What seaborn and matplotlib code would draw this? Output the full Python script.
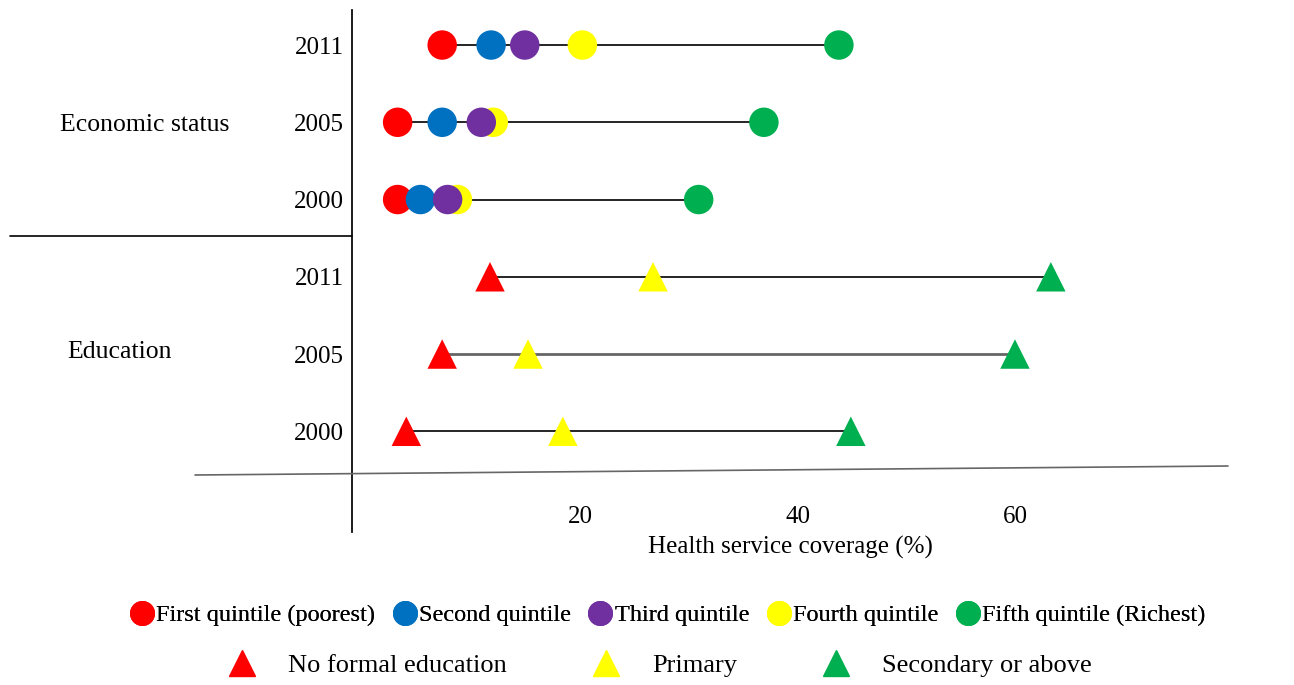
import matplotlib
matplotlib.use("Agg")
import matplotlib.pyplot as plt
import seaborn as sns
import pandas as pd
from matplotlib.lines import Line2D

sns.set_theme(style="white")
plt.rcParams['font.family'] = ['Liberation Serif', 'DejaVu Serif']
plt.rcParams['text.color'] = 'black'
plt.rcParams['xtick.color'] = 'black'
plt.rcParams['ytick.color'] = 'black'
plt.rcParams['axes.labelcolor'] = 'black'

years = ["2011", "2005", "2000", "2011", "2005", "2000"]
econ_names = ["First quintile (poorest)", "Second quintile", "Third quintile", "Fourth quintile", "Fifth quintile (Richest)"]
econ_colors = ["#ff0000", "#0070c0", "#7030a0", "#ffff00", "#00b050"]
econ_vals = {  # rows 2011, 2005, 2000
    "First quintile (poorest)": [7.3, 3.2, 3.2],
    "Second quintile": [11.8, 7.3, 5.3],
    "Third quintile": [14.9, 10.9, 7.8],
    "Fourth quintile": [20.2, 12.0, 8.7],
    "Fifth quintile (Richest)": [43.8, 36.9, 30.9],
}
econ_order = ["First quintile (poorest)", "Second quintile", "Fourth quintile", "Third quintile", "Fifth quintile (Richest)"]
edu_names = ["No formal education", "Primary", "Secondary or above"]
edu_colors = ["#ff0000", "#ffff00", "#00b050"]
edu_vals = {
    "No formal education": [11.7, 7.3, 4.0],
    "Primary": [26.7, 15.2, 18.4],
    "Secondary or above": [63.3, 60.0, 44.9],
}

fig = plt.figure(figsize=(12.94, 6.85), dpi=100)
ax = fig.add_axes([0.272, 0.314, 0.677, 0.671])

rows = []
for n in econ_names:
    for i, v in enumerate(econ_vals[n]):
        rows.append(dict(x=v, y=i, g=n))
edf = pd.DataFrame(rows)
rows = []
for n in edu_names:
    for i, v in enumerate(edu_vals[n]):
        rows.append(dict(x=v, y=i + 3, g=n))
udf = pd.DataFrame(rows)

for i in range(3):
    vs = [econ_vals[n][i] for n in econ_names]
    ax.hlines(i, min(vs), max(vs), color="black", lw=1.2, zorder=1)
    vs = [edu_vals[n][i] for n in edu_names]
    ax.hlines(i + 3, min(vs), max(vs), color="black" if i != 1 else "#666666", lw=1.2 if i != 1 else 2, zorder=1)

for n in econ_order:
    c = econ_colors[econ_names.index(n)]
    sub = edf[edf.g == n]
    sns.scatterplot(data=sub, x="x", y="y", color=c, s=450, marker="o", edgecolor="none", ax=ax, zorder=3, legend=False)
for n, c in zip(edu_names, edu_colors):
    sub = udf[udf.g == n]
    sns.scatterplot(data=sub, x="x", y="y", color=c, s=450, marker="^", edgecolor="none", ax=ax, zorder=3, legend=False)

ax.set_xlim(-1, 79.6)
ax.set_ylim(5.5, -0.45)
ax.set_xticks([20, 40, 60])
ax.set_yticks(range(6))
ax.set_yticklabels(years)
ax.tick_params(axis="y", labelsize=18, length=0, pad=6)
ax.tick_params(axis="x", labelsize=18, length=0, pad=26)
ax.set_xlabel("Health service coverage (%)", fontsize=18, labelpad=6)
ax.set_ylabel("")
for s in ["top", "right", "bottom"]:
    ax.spines[s].set_visible(False)
ax.spines["left"].set_color("black")
ax.spines["left"].set_bounds(-0.45, 6.3)
ax.spines["left"].set_clip_on(False)

fig.add_artist(Line2D([195/1294, 1228/1294], [1-475/685, 1-466/685], color="#666666", lw=1.2))
fig.add_artist(Line2D([10/1294, 352/1294], [1-236/685, 1-236/685], color="black", lw=1.2))
fig.text(60/1294, 1-125/685, "Economic status", fontsize=18.5, va="center", ha="left")
fig.text(67/1294, 1-352/685, "Education", fontsize=18.5, va="center", ha="left")

h1 = [Line2D([], [], marker="o", ls="", color=c, markersize=17) for c in econ_colors]
leg1 = fig.legend(h1, econ_names, loc="center", bbox_to_anchor=(0.515, 1-615/685), ncol=5, frameon=False,
                  fontsize=17.5, handletextpad=0.0, columnspacing=0.6, handlelength=1.2)
h2 = [Line2D([], [], marker="^", ls="", color=c, markersize=19) for c in edu_colors]
fig.legend(h2, edu_names, loc="center", bbox_to_anchor=(0.508, 1-665/685), ncol=3, frameon=False,
           fontsize=19, handletextpad=1.0, columnspacing=3.0, handlelength=1.5)
fig.add_artist(leg1)

fig.savefig("out.png", dpi=100)
